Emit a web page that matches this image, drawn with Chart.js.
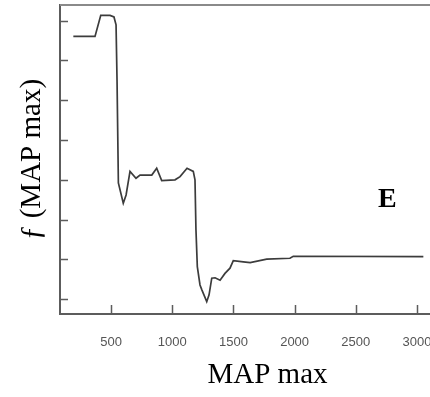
<!DOCTYPE html>
<html>
<head>
<meta charset="utf-8">
<script src="https://cdn.jsdelivr.net/npm/chart.js@4/dist/chart.umd.min.js"></script>
<style>
  html, body { margin: 0; padding: 0; background: #fff; overflow: hidden; }
  #wrap { width: 475px; height: 397px; }
</style>
</head>
<body>
<div id="wrap"><canvas id="fmap"></canvas></div>
<script>
  // MAP max values along the curve
  var mapMax = [192, 369, 416, 492, 524, 541, 549, 560, 600, 623, 655, 704, 737, 833, 873, 914,
    1023, 1064, 1121, 1172, 1186, 1194, 1205, 1227, 1243, 1282, 1301, 1323, 1350, 1391, 1431,
    1472, 1499, 1581, 1637, 1772, 1962, 1989, 3052];
  // f(MAP max), in units of the (unlabelled) y ticks
  var fValue = [7.60, 7.60, 8.13, 8.13, 8.09, 7.89, 6.51, 3.92, 3.41, 3.62, 4.21, 4.04, 4.12, 4.12, 4.29, 3.98,
    4.00, 4.08, 4.29, 4.21, 4.00, 2.74, 1.82, 1.36, 1.23, 0.94, 1.11, 1.53, 1.54, 1.48, 1.65,
    1.78, 1.97, 1.94, 1.92, 2.01, 2.03, 2.08, 2.07];
  var xTicks = [500, 1000, 1500, 2000, 2500, 3000];
  var panelLabel = "E";

  var points = mapMax.map(function (m, i) {
    return { x: m, y: fValue[i] };
  });

  var axisColor = "#5c5c5c";

  // tick marks point into the plot, plus the top frame line and panel letter
  var frame = {
    id: "frame",
    afterDraw: function (chart) {
      var ctx = chart.ctx;
      var area = chart.chartArea;
      var xs = chart.scales.x;
      var ys = chart.scales.y;
      ctx.save();
      ctx.strokeStyle = axisColor;
      ctx.lineWidth = 1.5;
      ctx.beginPath();
      xs.ticks.forEach(function (t) {
        var px = Math.round(xs.getPixelForValue(t.value)) + 0.5;
        ctx.moveTo(px, area.bottom);
        ctx.lineTo(px, area.bottom - 9);
      });
      ys.ticks.forEach(function (t) {
        var py = Math.round(ys.getPixelForValue(t.value)) + 0.5;
        ctx.moveTo(area.left, py);
        ctx.lineTo(area.left + 8, py);
      });
      ctx.stroke();

      ctx.strokeStyle = "#8a8a8a";
      ctx.lineWidth = 2;
      ctx.beginPath();
      ctx.moveTo(area.left, area.top);
      ctx.lineTo(area.right, area.top);
      ctx.stroke();

      ctx.fillStyle = "#000";
      ctx.font = "bold 28px 'Liberation Serif', 'Times New Roman', serif";
      ctx.textAlign = "center";
      ctx.textBaseline = "middle";
      ctx.fillText(panelLabel, xs.getPixelForValue(2758), ys.getPixelForValue(3.49));
      ctx.restore();
    }
  };

  new Chart(document.getElementById("fmap"), {
    type: "line",
    data: {
      datasets: [{
        data: points,
        borderColor: "#3c3c3c",
        borderWidth: 1.7,
        pointRadius: 0,
        tension: 0,
        fill: false
      }]
    },
    options: {
      responsive: true,
      maintainAspectRatio: false,
      animation: false,
      layout: { padding: { top: 5, right: 0, bottom: 0, left: 0 } },
      plugins: { legend: { display: false }, tooltip: { enabled: false } },
      scales: {
        x: {
          type: "linear",
          min: 83,
          max: 3474,
          afterBuildTicks: function (scale) {
            scale.ticks = xTicks.map(function (v) { return { value: v }; });
          },
          afterFit: function (scale) { scale.height = 83; },
          grid: { display: false },
          border: { display: true, color: axisColor, width: 2 },
          ticks: {
            padding: 13,
            color: "#555",
            font: { family: "'Liberation Sans', Arial, sans-serif", size: 13 },
            callback: function (v) { return String(v); }
          },
          title: {
            display: true,
            text: "MAP max",
            color: "#000",
            padding: { top: 0, bottom: 4 },
            font: { family: "'Liberation Serif', 'Times New Roman', serif", size: 29, lineHeight: 1.2 }
          }
        },
        y: {
          type: "linear",
          min: 0.63,
          max: 8.39,
          afterBuildTicks: function (scale) {
            var t = [];
            for (var v = 1; v <= 8; v++) t.push({ value: v });
            scale.ticks = t;
          },
          afterFit: function (scale) { scale.width = 60; },
          grid: { display: false },
          border: { display: true, color: axisColor, width: 2 },
          ticks: { display: false },
          title: {
            display: true,
            text: "\u0192 (MAP max)",
            color: "#000",
            padding: { top: 15, bottom: 0 },
            font: { family: "'Liberation Serif', 'Times New Roman', serif", size: 29, lineHeight: 1.2 }
          }
        }
      }
    },
    plugins: [frame]
  });
</script>
</body>
</html>
